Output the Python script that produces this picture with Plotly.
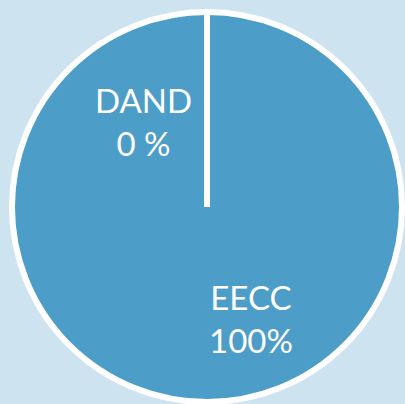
import plotly.graph_objects as go

labels = ["DAND", "EECC"]
values = [0, 100]
label_texts = ["DAND<br>0 %", "EECC<br>100%"]

PIE_COLOR = "#4c9dc8"
BG = "#cee3f0"
W, H = 405, 404

dom_x = [12 / W, 402 / W]
dom_y = [2 / H, 392 / H]

fig = go.Figure(go.Pie(
    labels=labels,
    values=values,
    sort=False,
    direction="clockwise",
    rotation=0,
    textinfo="none",
    hoverinfo="label+percent",
    marker=dict(colors=[PIE_COLOR, PIE_COLOR], line=dict(color="white", width=6)),
    domain=dict(x=dom_x, y=dom_y),
    showlegend=False,
))

# boundary of the zero-value slice (from pie centre to 12 o'clock)
cx = (dom_x[0] + dom_x[1]) / 2
cy = (dom_y[0] + dom_y[1]) / 2
fig.add_shape(type="line", xref="paper", yref="paper",
              x0=cx, x1=cx, y0=cy, y1=dom_y[1],
              line=dict(color="white", width=6))

label_pos = [(143 / W, 1 - 121 / H), (251 / W, 1 - 318 / H)]
for t, (x, y) in zip(label_texts, label_pos):
    fig.add_annotation(text=t, x=x, y=y, xref="paper", yref="paper",
                       xanchor="center", yanchor="middle",
                       showarrow=False, font=dict(family="Lato", size=33, color="white"),
                       align="center")

fig.update_layout(width=W, height=H, margin=dict(l=0, r=0, t=0, b=0),
                  paper_bgcolor=BG, plot_bgcolor=BG)
fig.write_html("out.html", config={"displayModeBar": False},
               post_script="document.body.style.margin='0';document.documentElement.style.background='%s';" % BG)
